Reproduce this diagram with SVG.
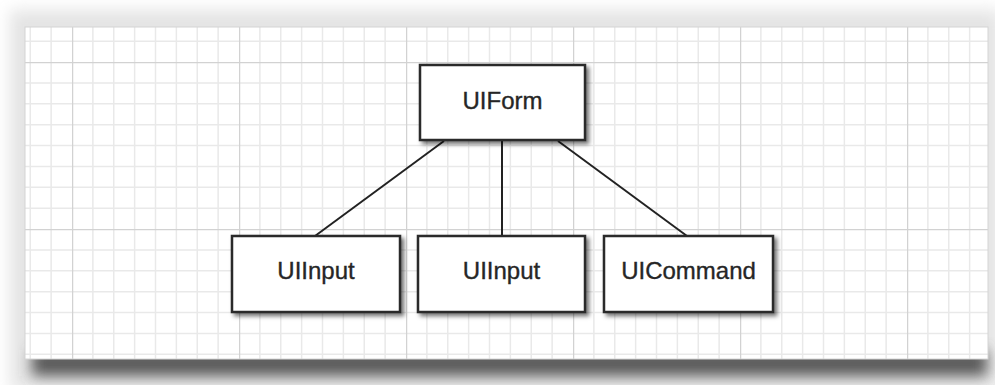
<svg xmlns="http://www.w3.org/2000/svg" width="995" height="385" viewBox="0 0 995 385">
  <defs>
    <style>
      .box { fill: #ffffff; stroke: #2b2b2b; stroke-width: 2.5; filter: url(#boxShadow); }
      .label { font-family: "Liberation Sans", Arial, sans-serif; font-size: 24px; fill: #262626; stroke: #262626; stroke-width: 0.35; text-anchor: middle; }
      .edge { stroke: #222222; stroke-width: 2; fill: none; }
    </style>
    <filter id="boxShadow" x="-10%" y="-10%" width="130%" height="140%">
      <feDropShadow dx="3" dy="3" stdDeviation="2" flood-color="#000000" flood-opacity="0.55"/>
    </filter>
    <filter id="soft" x="-5%" y="-50%" width="110%" height="200%">
      <feGaussianBlur stdDeviation="7"/>
    </filter>
    <filter id="halo" x="-5%" y="-10%" width="110%" height="120%">
      <feGaussianBlur stdDeviation="8"/>
    </filter>
    <!-- graph paper: 8 minor cells per major cell -->
    <pattern id="grid" patternUnits="userSpaceOnUse" x="72" y="62" width="167" height="167">
      <g stroke="#e9e9e9" stroke-width="1.5">
        <path d="M20.875 0V167M41.75 0V167M62.625 0V167M83.5 0V167M104.375 0V167M125.25 0V167M146.125 0V167"/>
        <path d="M0 20.875H167M0 41.75H167M0 62.625H167M0 83.5H167M0 104.375H167M0 125.25H167M0 146.125H167"/>
      </g>
      <g stroke="#d2d2d2" stroke-width="2.5">
        <path d="M0 0V167M0 0H167"/>
      </g>
    </pattern>
  </defs>

  <!-- page backdrop -->
  <rect x="0" y="0" width="995" height="385" fill="#ffffff"/>
  <rect x="10" y="10" width="990" height="380" fill="#e4e4e4" filter="url(#halo)"/>
  <rect x="32" y="350" width="955" height="26" fill="#5a5a5a" filter="url(#soft)"/>

  <!-- paper sheet -->
  <rect x="25" y="27" width="963" height="332" fill="#ffffff"/>
  <rect x="25" y="27" width="963" height="332" fill="url(#grid)" stroke="#d4d4d4" stroke-width="1"/>

  <!-- connectors -->
  <g id="connectors">
    <line class="edge" x1="444" y1="141" x2="315" y2="236"/>
    <line class="edge" x1="502" y1="141" x2="502" y2="236"/>
    <line class="edge" x1="558" y1="141" x2="687" y2="236"/>
  </g>

  <g id="uiform">
    <rect class="box" x="420" y="65" width="165" height="75"/>
    <text class="label" x="502.5" y="108.5">UIForm</text>
  </g>

  <g id="uiinput1">
    <rect class="box" x="232" y="236" width="168" height="76"/>
    <text class="label" x="316" y="279">UIInput</text>
  </g>

  <g id="uiinput2">
    <rect class="box" x="418" y="236" width="167" height="76"/>
    <text class="label" x="501.5" y="279">UIInput</text>
  </g>

  <g id="uicommand">
    <rect class="box" x="604" y="236" width="169" height="76"/>
    <text class="label" x="688.5" y="279">UICommand</text>
  </g>
</svg>
